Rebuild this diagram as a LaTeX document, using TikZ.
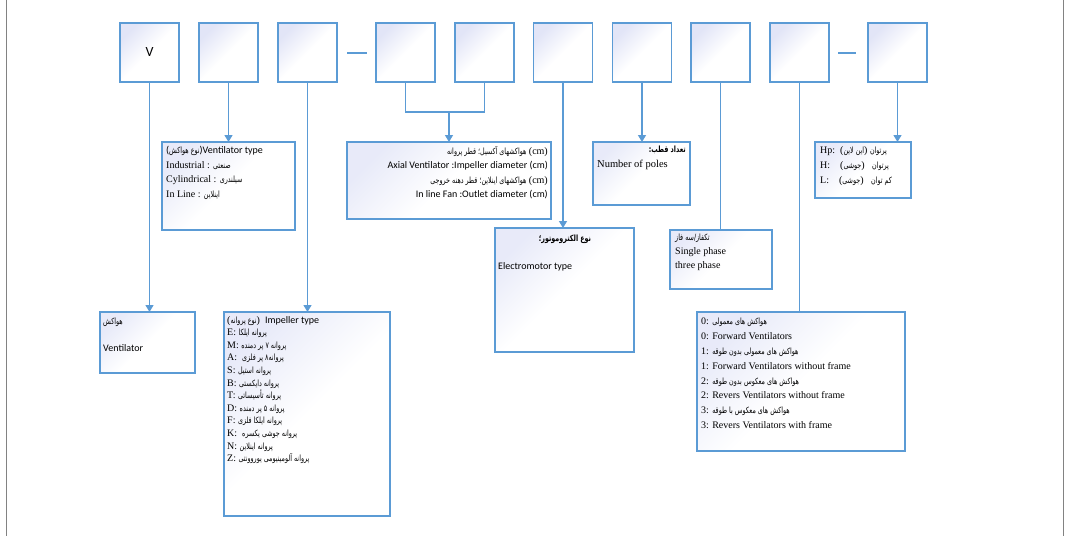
\documentclass[tikz,border=0pt]{standalone}
\usepackage{fontspec}
\setmainfont{Liberation Serif}
\newfontfamily\calfont{Carlito}
\newfontfamily\fafont[Script=Arabic, FakeStretch=0.74]{DejaVu Sans}
\TeXXeTstate=1
\usetikzlibrary{arrows.meta}
\definecolor{bord}{RGB}{91,155,213}
\definecolor{lav}{RGB}{226,229,247}
\definecolor{frm}{RGB}{130,130,130}
\newcommand\FA[1]{{\fontsize{8.6}{10}\fafont\beginR #1\endR}}
\begin{document}
\begin{tikzpicture}[x=1pt, y=-1pt,
  topbox/.style={draw=bord, line width=1.2pt, top color=lav, bottom color=white, middle color=white, shading angle=45,
    minimum width=59pt, minimum height=59pt, inner sep=0pt, outer sep=0pt},
  lbox/.style={draw=bord, line width=1.2pt, top color=lav!80, bottom color=white, middle color=white, shading angle=45,
    inner sep=0pt, outer sep=0pt, anchor=north west},
  txt/.style={anchor=north west, inner sep=0pt, align=left},
  conn/.style={draw=bord, line width=1.2pt},
  arr/.style={conn, -{Triangle[width=8pt,length=7pt]}},
  dashmark/.style={draw=bord, line width=1.2pt}
]
\useasboundingbox (0,0) rectangle (1069,536);
\fill[white] (0,0) rectangle (1069,536);
\draw[frm, line width=1pt] (6,0) -- (6,536);
\draw[frm, line width=1pt] (1063,0) -- (1063,536);

% top boxes
\node[topbox] (b1) at (149.5,52.5) {\calfont\fontsize{14}{14}\selectfont V};
\node[topbox] (b2) at (228.5,52.5) {};
\node[topbox] (b3) at (307.5,52.5) {};
\node[topbox] (b4) at (405.5,52.5) {};
\node[topbox] (b5) at (484.5,52.5) {};
\node[topbox] (b6) at (563,52.5) {};
\node[topbox] (b7) at (642,52.5) {};
\node[topbox] (b8) at (720.5,52.5) {};
\node[topbox] (b9) at (799.5,52.5) {};
\node[topbox] (b10) at (897.5,52.5) {};

% dashes
\coordinate (d1a) at (347,53); \coordinate (d1b) at (367,53);
\coordinate (d2a) at (838,53); \coordinate (d2b) at (856,53);
\draw[dashmark] (d1a) -- (d1b);
\draw[dashmark] (d2a) -- (d2b);

% lower boxes
\node[lbox, minimum width=133pt, minimum height=88pt] (vt) at (162,142) {};
\node[lbox, minimum width=204pt, minimum height=77pt] (ax) at (347,142) {};
\node[lbox, minimum width=97pt, minimum height=63pt] (po) at (593,142) {};
\node[lbox, minimum width=96pt, minimum height=56pt] (hp) at (815,142) {};
\node[lbox, minimum width=139pt, minimum height=124pt] (em) at (495,228) {};
\node[lbox, minimum width=102pt, minimum height=59pt] (tp) at (670,230) {};
\node[lbox, minimum width=95pt, minimum height=61pt] (ve) at (100,312) {};
\node[lbox, minimum width=166pt, minimum height=204pt] (im) at (224,312) {};
\node[lbox, minimum width=208pt, minimum height=139pt] (fr) at (697,312) {};

% texts
\node[txt, font=\fontsize{10}{14.5}\selectfont] (vtT) at (166,146)
  {{\calfont (}\FA{نوع هواکش}{\calfont )Ventilator type}\\
   Industrial : \FA{صنعتی}\\
   Cylindrical : \FA{سیلندری}\\
   In Line : \FA{اینلاین}};

\node[anchor=north east, inner sep=0pt, align=right, font=\fontsize{10}{14.5}\selectfont] (axT) at (548,146)
  {\FA{هواکشهای آکسیل؛ قطر پروانه} (cm)\\
   {\calfont Axial Ventilator :Impeller diameter (cm)}\\
   \FA{هواکشهای اینلاین؛ قطر دهنه خروجی} (cm)\\
   {\calfont In line Fan :Outlet diameter (cm)}};

\node[anchor=north east, inner sep=0pt, font=\bfseries] (poT1) at (686,146) {\FA{تعداد قطب:}};
\node[txt, font=\fontsize{10.5}{13}\selectfont] (poT2) at (597,160) {Number of poles};

\node[txt, font=\fontsize{10}{15}\selectfont] (hpT) at (820,146)
  {Hp:\ \ (\FA{این لاین}) \FA{پرتوان}\\
   H:\ \ \ \ (\FA{جوشی})\ \ \ \FA{پرتوان}\\
   L:\ \ \ \ (\FA{جوشی})\ \ \ \FA{کم توان}};

\node[anchor=north, inner sep=0pt, font=\bfseries] (emT1) at (565,235) {\FA{نوع الکتروموتور؛}};
\node[txt, font=\calfont\fontsize{10}{13}\selectfont] (emT2) at (498,262) {Electromotor type};

\node[txt, font=\fontsize{10}{14}\selectfont] (tpT) at (675,234)
  {\FA{تکفاز/سه فاز}\\ Single phase\\ three phase};

\node[txt] (veT1) at (103,318) {\FA{هواکش}};
\node[txt, font=\calfont\fontsize{10}{13}\selectfont] (veT2) at (103,344) {Ventilator};

\node[txt, font=\fontsize{10}{12.6}\selectfont] (imT) at (227,316)
  {(\FA{نوع پروانه})\ \ {\calfont Impeller type}\\
   E: \FA{پروانه ایلکا}\\
   M: \FA{پروانه ۷ پر دمنده}\\
   A:\ \ \FA{پروانه۸ پر فلزی}\\
   S: \FA{پروانه استیل}\\
   B: \FA{پروانه دایکستی}\\
   T: \FA{پروانه تأسیساتی}\\
   D: \FA{پروانه ۵ پر دمنده}\\
   F: \FA{پروانه ایلکا فلزی}\\
   K:\ \ \FA{پروانه جوشی یکسره}\\
   N: \FA{پروانه اینلاین}\\
   Z: \FA{پروانه آلومینیومی یوروونتی}};

\node[txt, font=\fontsize{10}{14.8}\selectfont] (frT) at (701,318)
  {0: \FA{هواکش های معمولی}\\
   0: Forward Ventilators\\
   1: \FA{هواکش های معمولی بدون طوقه}\\
   1: Forward Ventilators without frame\\
   2: \FA{هواکش های معکوس بدون طوقه}\\
   2: Revers Ventilators without frame\\
   3: \FA{هواکش های معکوس با طوقه}\\
   3: Revers Ventilators with frame};

% connectors
\draw[arr] (b1.south) -- (b1.south |- ve.north);
\draw[arr] (b2.south) -- (b2.south |- vt.north);
\draw[arr] (b3.south) -- (b3.south |- im.north);
\coordinate (j) at (449,112);
\draw[conn] (b4.south) |- (j) -| (b5.south);
\draw[arr] (j) -- (j |- ax.north);
\draw[arr] (b6.south) -- (b6.south |- em.north);
\draw[arr] (b7.south) -- (b7.south |- po.north);
\draw[conn] (b8.south) -- (b8.south |- tp.north);
\draw[conn] (b9.south) -- (b9.south |- fr.north);
\draw[arr] (b10.south) -- (b10.south |- hp.north);
\end{tikzpicture}
\end{document}
